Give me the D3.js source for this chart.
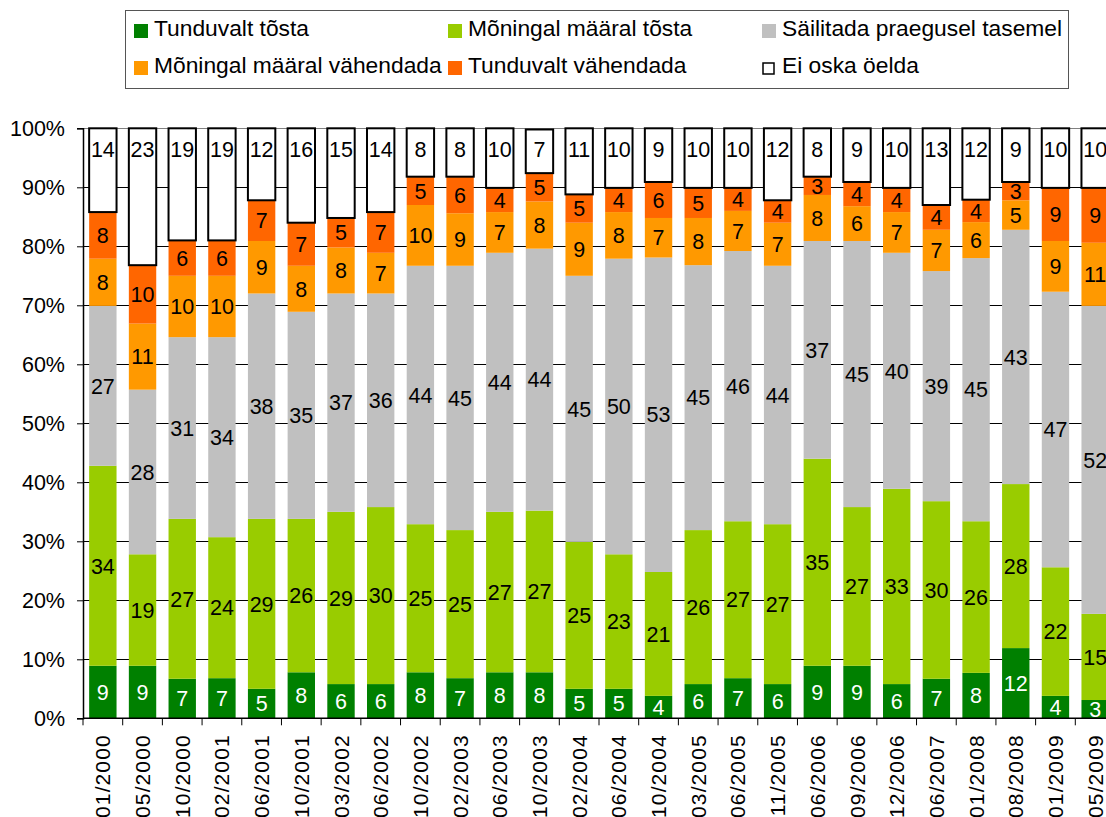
<!DOCTYPE html>
<html>
<head>
<meta charset="utf-8">
<script src="https://cdn.jsdelivr.net/npm/d3@7"></script>
<style>
  body { margin: 0; background: #fff; }
  svg { display: block; font-family: "Liberation Sans", Arial, sans-serif; }
</style>
</head>
<body>
<div id="chart"></div>
<script>
// survey waves
var categories = ["01/2000", "05/2000", "10/2000", "02/2001", "06/2001", "10/2001", "03/2002", "06/2002",
    "10/2002", "02/2003", "06/2003", "10/2003", "02/2004", "06/2004", "10/2004", "03/2005", "06/2005",
    "11/2005", "06/2006", "09/2006", "12/2006", "06/2007", "01/2008", "08/2008", "01/2009", "05/2009"];

var seriesNames = ["Tunduvalt tõsta", "Mõningal määral tõsta", "Säilitada praegusel tasemel",
    "Mõningal määral vähendada", "Tunduvalt vähendada", "Ei oska öelda"];

// shares in percent
var tunduvaltTosta = [8.9, 8.9, 6.7, 6.8, 5.0, 7.8, 5.8, 5.8, 7.8, 6.8, 7.8, 7.8, 5.0, 5.0, 3.8, 5.8, 6.8, 5.8, 8.9, 8.9, 5.8, 6.7, 7.7, 11.9, 3.8, 3.1];
var moningalTosta = [33.9, 18.9, 27.1, 23.9, 28.8, 26.0, 29.2, 30.0, 25.1, 25.1, 27.2, 27.4, 24.9, 22.8, 21.0, 26.1, 26.6, 27.1, 35.1, 26.9, 33.1, 30.1, 25.7, 27.8, 21.8, 14.6];
var sailitada = [27.1, 27.9, 30.8, 33.9, 38.2, 35.1, 37.0, 36.2, 43.8, 44.8, 43.9, 44.4, 45.1, 50.1, 53.3, 44.9, 45.8, 43.8, 36.9, 45.1, 40.0, 39.0, 44.6, 43.1, 46.7, 52.2];
var moningalVahendada = [8.0, 11.2, 10.4, 10.4, 8.9, 7.8, 7.8, 6.9, 10.3, 8.9, 6.9, 8.0, 9.0, 7.9, 6.7, 8.0, 6.8, 7.3, 7.8, 5.9, 6.9, 7.0, 6.1, 5.0, 8.6, 10.7];
var tunduvaltVahendada = [7.9, 9.9, 6.0, 6.0, 6.9, 7.3, 5.0, 6.9, 4.8, 6.2, 4.1, 4.8, 4.8, 4.1, 6.1, 5.1, 3.9, 3.8, 3.1, 4.1, 4.1, 4.2, 3.8, 3.1, 9.0, 9.3];
var eiOska = [14.2, 23.2, 19.0, 19.0, 12.2, 16.0, 15.2, 14.2, 8.2, 8.2, 10.1, 7.4, 11.2, 10.1, 9.1, 10.1, 10.1, 12.2, 8.2, 9.1, 10.1, 13.0, 12.2, 9.1, 10.1, 10.3];

var yTicks = [0, 10, 20, 30, 40, 50, 60, 70, 80, 90, 100];

var colors = ["#008000", "#99CC00", "#C0C0C0", "#FF9900", "#FF6600", "#FFFFFF"];
var seriesValues = [tunduvaltTosta, moningalTosta, sailitada, moningalVahendada, tunduvaltVahendada, eiOska];

var w = 1106;
var h = 817;
var plotLeft = 83, plotRight = 1115, plotTop = 128.3, plotBottom = 718.3;

// one row per wave for d3.stack
var rows = categories.map(function (c, i) {
    var r = { cat: c };
    seriesNames.forEach(function (s, k) { r[s] = seriesValues[k][i]; });
    return r;
});
var stacked = d3.stack().keys(seriesNames)(rows);

var x = d3.scaleBand()
    .domain(categories)
    .range([plotLeft, plotRight])
    .paddingInner(0.31)
    .paddingOuter(0.155);

var y = d3.scaleLinear()
    .domain([0, 100])
    .range([plotBottom, plotTop])
    .clamp(true);

var svg = d3.select("#chart").append("svg")
    .attr("width", w)
    .attr("height", h);

// gridlines
svg.append("g")
    .selectAll("line")
    .data(yTicks)
    .enter()
    .append("line")
    .attr("x1", plotLeft)
    .attr("x2", w)
    .attr("y1", d => Math.round(y(d)) + 0.5)
    .attr("y2", d => Math.round(y(d)) + 0.5)
    .attr("stroke", d => d === 100 ? "#808080" : "#000")
    .attr("stroke-width", 1);

// bars
var layers = svg.append("g")
    .selectAll("g")
    .data(stacked)
    .enter()
    .append("g")
    .attr("fill", (d, i) => colors[i]);

layers.selectAll("rect")
    .data(d => d.map(v => ({ v: v, k: d.index })))
    .enter()
    .append("rect")
    .attr("x", d => x(d.v.data.cat))
    .attr("width", x.bandwidth())
    .attr("y", d => y(d.v[1]))
    .attr("height", d => y(d.v[0]) - y(d.v[1]))
    .attr("stroke", d => d.k === 5 ? "#000" : "none")
    .attr("stroke-width", 2);

// value labels (the "ei oska" ones sit in a row near the top)
layers.selectAll("text")
    .data(d => d.map(v => ({ v: v, k: d.index })))
    .enter()
    .append("text")
    .attr("x", d => x(d.v.data.cat) + x.bandwidth() / 2)
    .attr("y", d => d.k === 5 ? y(96.5) : (y(d.v[0]) + y(d.v[1])) / 2)
    .attr("dy", "0.36em")
    .attr("text-anchor", "middle")
    .attr("fill", d => d.k === 0 ? "#fff" : "#000")
    .style("font-size", "21.5px")
    .text(d => d3.format(".0f")(d.v[1] - d.v[0]));

// axes
var yAxis = d3.axisLeft(y)
    .tickValues(yTicks)
    .tickSize(6)
    .tickFormat(d => d + "%");

var gy = svg.append("g")
    .attr("transform", "translate(" + plotLeft + ",0)")
    .call(yAxis);
gy.select(".domain").attr("stroke", "#000").attr("stroke-width", 1.5);
gy.selectAll(".tick line").attr("stroke", "#000");
gy.selectAll(".tick text")
    .attr("x", -18)
    .style("font-size", "21.5px")
    .style("font-family", "Liberation Sans, Arial, sans-serif")
    .attr("fill", "#000");

var gx = svg.append("g")
    .attr("transform", "translate(0," + plotBottom + ")");
gx.append("line")
    .attr("x1", plotLeft)
    .attr("x2", w)
    .attr("stroke", "#000")
    .attr("stroke-width", 1.5);
gx.selectAll("line.tick")
    .data(d3.range(categories.length + 1))
    .enter()
    .append("line")
    .attr("class", "tick")
    .attr("x1", i => plotLeft + i * x.step())
    .attr("x2", i => plotLeft + i * x.step())
    .attr("y1", 0)
    .attr("y2", 7)
    .attr("stroke", "#000");
gx.selectAll("text")
    .data(categories)
    .enter()
    .append("text")
    .attr("transform", d => "translate(" + (x(d) + x.bandwidth() / 2) + ",16) rotate(-90)")
    .attr("text-anchor", "end")
    .attr("dy", "0.36em")
    .style("font-size", "21px")
    .style("letter-spacing", "1.1px")
    .text(d => d);

// legend
var legend = svg.append("g");
legend.append("rect")
    .attr("x", 125.5)
    .attr("y", 10.5)
    .attr("width", 943)
    .attr("height", 78)
    .attr("fill", "#fff")
    .attr("stroke", "#555");

var legendPos = [[134, 24], [448, 24], [762, 24], [134, 61], [448, 61], [762, 61]];
seriesNames.forEach(function (s, i) {
    var g = legend.append("g").attr("transform", "translate(" + legendPos[i][0] + "," + legendPos[i][1] + ")");
    if (i === 5) {
        g.append("rect").attr("x", 1).attr("y", 2).attr("width", 11).attr("height", 11)
            .attr("fill", "#fff").attr("stroke", "#000").attr("stroke-width", 1.5);
    } else {
        g.append("rect").attr("width", 14).attr("height", 14).attr("fill", colors[i]);
    }
    g.append("text")
        .attr("x", 20)
        .attr("y", 12)
        .style("font-size", "22.8px")
        .text(s);
});
</script>
</body>
</html>
